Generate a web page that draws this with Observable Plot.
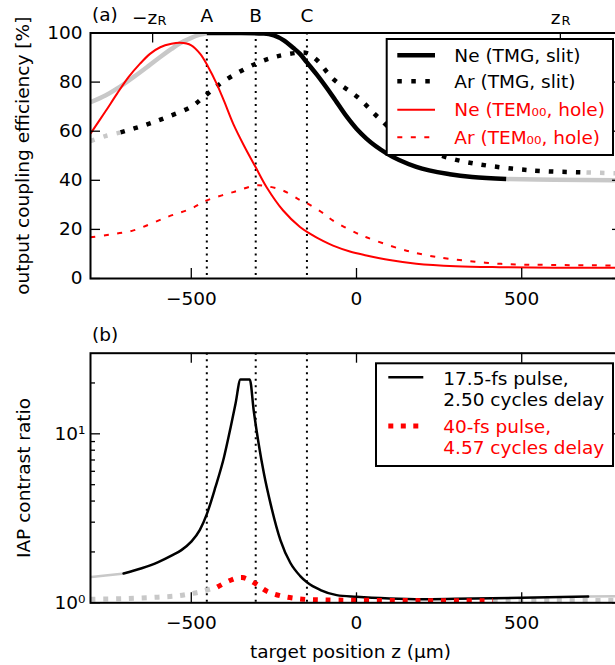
<!DOCTYPE html>
<html><head><meta charset="utf-8">
<script src="https://cdn.jsdelivr.net/npm/d3@7"></script>
<script src="https://cdn.jsdelivr.net/npm/@observablehq/plot@0.6"></script>
<style>
html,body{margin:0;padding:0;background:#fff;}
#wrap{position:relative;width:615px;height:665px;overflow:hidden;background:#fff;}
#wrap svg{position:absolute;left:0;max-width:none !important;}
</style></head><body><div id="wrap"></div>
<script>
const FONT = "DejaVu Sans";
const FS = "18.5px";
const GRAY = "#c8c8c8";
const RED = "#ff0000";

// ---- markers ----
const markerZ = [-453, -305, -150];
const markerLabels = ["A", "B", "C"];
const zR = 617;
const xTicks = [-500, 0, 500];
const yTicksA = [0, 20, 40, 60, 80, 100];
const yMajorB = [1, 10];
const yMinorB = [2, 3, 4, 5, 6, 7, 8, 9, 20];

// ---- panel (a) ----
const neTmgGrayLZ = [-805, -760, -725, -675, -630, -595, -560, -534, -500, -474, -453];
const neTmgGrayLV = [71.8, 74.5, 77.3, 82.0, 86.5, 90.1, 93.5, 95.8, 98.0, 99.3, 100];
const neTmgZ = [-453, -350, -280, -250, -220, -192, -171, -150, -120, -71, -30, 0, 30, 91, 181, 282, 350, 453];
const neTmgV = [100, 100, 99.8, 99, 97, 94, 91.5, 88, 83, 74, 66, 61, 57, 51, 45.5, 42.5, 41.3, 40.5];
const neTmgGrayRZ = [453, 600, 805];
const neTmgGrayRV = [40.5, 40.2, 40.0];

const arTmgGrayLZ = [-805, -760, -714];
const arTmgGrayLV = [56, 58, 59.5];
const arTmgZ = [-714, -640, -574, -500, -453, -400, -305, -240, -171, -150, -120, -71, 4, 65, 130, 200, 272, 362, 533, 696];
const arTmgV = [59.5, 62.5, 65.7, 70, 75, 80.5, 87.5, 90.5, 92, 91.8, 89, 81.3, 73.8, 65.7, 58, 53, 49.4, 46.7, 44, 43.2];
const arTmgGrayRZ = [696, 805];
const arTmgGrayRV = [43.2, 42.8];

const neTemZ = [-805, -760, -725, -690, -655, -625, -594, -560, -534, -500, -473, -450, -423, -400, -373, -340, -305, -272, -222, -171, -141, -100, -71, -20, 30, 100, 181, 300, 433, 600, 805];
const neTemV = [59, 68, 75.2, 82, 87.5, 91.5, 94.2, 95.6, 96, 95, 91.5, 86.5, 79.3, 72, 63, 54, 45.3, 37.2, 27.7, 21, 18.3, 15.2, 13.4, 11, 9.4, 7.5, 6, 5, 4.6, 4.4, 4.4];

const arTemZ = [-805, -750, -675, -574, -500, -453, -373, -305, -272, -222, -171, -141, -100, -71, 0, 30, 131, 200, 282, 433, 600, 805];
const arTemV = [16.8, 17.8, 19.6, 25, 28.5, 31.8, 35.2, 37.9, 37.6, 35.8, 32, 30, 26.5, 23.6, 18.5, 16.8, 12.1, 9.8, 8, 6, 5.5, 5.3];

// ---- panel (b) ----
const p17GrayLZ = [-805, -760, -705];
const p17GrayLV = [1.42, 1.45, 1.49];
const p17Z = [-705, -650, -600, -560, -530, -500, -474, -453, -427, -401, -381, -366, -351, -323, -311, -296, -280, -260, -230, -200, -171, -149, -109, -60, 0, 100, 200, 300, 500, 701];
const p17V = [1.49, 1.60, 1.74, 1.90, 2.05, 2.3, 2.7, 3.35, 4.83, 7.27, 10.9, 15.1, 21, 21, 13.7, 8.7, 5.8, 3.85, 2.34, 1.72, 1.445, 1.318, 1.19, 1.11, 1.085, 1.06, 1.05, 1.055, 1.07, 1.09];
const p17GrayRZ = [701, 805];
const p17GrayRV = [1.09, 1.095];

const p40GrayLZ = [-805, -700, -600, -540, -504, -474, -440, -421];
const p40GrayLV = [1.05, 1.06, 1.08, 1.10, 1.13, 1.16, 1.21, 1.24];
const p40Z = [-421, -381, -346, -306, -271, -230, -190, -150, -100, 0, 200, 413];
const p40V = [1.24, 1.36, 1.41, 1.30, 1.17, 1.10, 1.065, 1.046, 1.04, 1.035, 1.03, 1.03];
const p40GrayRZ = [413, 600, 805];
const p40GrayRV = [1.03, 1.03, 1.035];

const legendA = ["Ne (TMG, slit)", "Ar (TMG, slit)", "Ne (TEM\u2080\u2080, hole)", "Ar (TEM\u2080\u2080, hole)"];
const legendB = [["17.5-fs pulse,", "2.50 cycles delay"], ["40-fs pulse,", "4.57 cycles delay"]];

const pts = (zs, vs) => zs.map((z, i) => ({z, v: vs[i]}));
const minus = d => d < 0 ? "\u2212" + Math.abs(d) : String(d);

// ---- layout ----
const W = 625, ML = 90, MR = 3;
const xDomain = [-805, 805];
const pw = W - ML - MR;
const TL = 10, TLm = 5;
const style = {fontFamily: FONT, fontSize: FS, color: "black", background: "transparent", overflow: "visible"};

const hA = 320, mtA = 32.5, mbA = 42, phA = hA - mtA - mbA;
const thick = {x: "z", y: "v", strokeWidth: 4.5, curve: "catmull-rom", clip: "frame", strokeLinecap: "butt"};

const plotA = Plot.plot({
  width: W, height: hA, marginTop: mtA, marginBottom: mbA, marginLeft: ML, marginRight: MR,
  style,
  x: {domain: xDomain}, y: {domain: [0, 100]},
  marks: [
    Plot.ruleX(markerZ, {stroke: "black", strokeWidth: 2, strokeDasharray: "2,4.5"}),
    Plot.line(pts(neTmgGrayLZ, neTmgGrayLV), {...thick, stroke: GRAY}),
    Plot.line(pts(neTmgGrayRZ, neTmgGrayRV), {...thick, stroke: GRAY}),
    Plot.line(pts(arTmgGrayLZ, arTmgGrayLV), {...thick, stroke: GRAY, strokeDasharray: "4.5,9"}),
    Plot.line(pts(arTmgGrayRZ, arTmgGrayRV), {...thick, stroke: GRAY, strokeDasharray: "4.5,9"}),
    Plot.line(pts(neTmgZ, neTmgV), {...thick, curve: "monotone-x", stroke: "black"}),
    Plot.line(pts(arTmgZ, arTmgV), {...thick, stroke: "black", strokeDasharray: "4.5,9"}),
    Plot.line(pts(neTemZ, neTemV), {...thick, strokeWidth: 2, stroke: RED}),
    Plot.line(pts(arTemZ, arTemV), {...thick, strokeWidth: 2, stroke: RED, strokeDasharray: "5,8.5"}),
    Plot.ruleX(xTicks, {insetTop: phA - TL, strokeWidth: 1.3}),
    Plot.ruleX([-zR, zR], {insetBottom: phA - TL, strokeWidth: 1.3}),
    Plot.ruleY(yTicksA, {insetRight: pw - TL, strokeWidth: 1.3}),
    Plot.ruleY(yTicksA, {insetLeft: pw - TL, strokeWidth: 1.3}),
    Plot.axisX(xTicks, {tickSize: 0, tickPadding: 13, tickFormat: minus, label: null}),
    Plot.axisY(yTicksA, {tickSize: 0, tickPadding: 8, label: null}),
    Plot.frame({stroke: "black", strokeWidth: 2}),
    Plot.text(["(a)"], {text: d => d, frameAnchor: "top-left", textAnchor: "start", dx: 1.5, dy: -18, lineAnchor: "middle"}),
    Plot.text(markerZ, {x: d => d, text: (d, i) => markerLabels[i], frameAnchor: "top", dy: -16.6, lineAnchor: "middle"}),
    Plot.text([-zR], {x: d => d, text: () => "\u2212z", frameAnchor: "top", textAnchor: "end", dx: 4.5, dy: -15, lineAnchor: "middle"}),
    Plot.text([-zR], {x: d => d, text: () => "R", frameAnchor: "top", textAnchor: "start", dx: 5, dy: -11.7, lineAnchor: "middle", fontSize: 13}),
    Plot.text([zR], {x: d => d, text: () => "z", frameAnchor: "top", textAnchor: "end", dx: 0, dy: -15, lineAnchor: "middle"}),
    Plot.text([zR], {x: d => d, text: () => "R", frameAnchor: "top", textAnchor: "start", dx: 1, dy: -11.7, lineAnchor: "middle", fontSize: 13}),
    Plot.text(["output coupling efficiency [%]"], {text: d => d, frameAnchor: "left", textAnchor: "middle", dx: -67.5, rotate: -90, lineAnchor: "middle"})
  ]
});

const hB = 345, mtB = 32.7, mbB = 62.7, phB = hB - mtB - mbB;
const dotted = {x: "z", y: "v", strokeWidth: 5, strokeDasharray: "5,7.8", curve: "catmull-rom", clip: "frame", strokeLinecap: "butt"};
const plotB = Plot.plot({
  width: W, height: hB, marginTop: mtB, marginBottom: mbB, marginLeft: ML, marginRight: MR,
  style,
  x: {domain: xDomain}, y: {type: "log", domain: [1, 30]},
  marks: [
    Plot.ruleX(markerZ, {stroke: "black", strokeWidth: 2, strokeDasharray: "2,4.5"}),
    Plot.line(pts(p17GrayLZ, p17GrayLV), {x: "z", y: "v", stroke: GRAY, strokeWidth: 2.5, curve: "monotone-x", clip: "frame"}),
    Plot.line(pts(p17GrayRZ, p17GrayRV), {x: "z", y: "v", stroke: GRAY, strokeWidth: 2.5, curve: "monotone-x", clip: "frame"}),
    Plot.line(pts(p40GrayLZ, p40GrayLV), {...dotted, stroke: GRAY}),
    Plot.line(pts(p40GrayRZ, p40GrayRV), {...dotted, stroke: GRAY}),
    Plot.line(pts(p17Z, p17V), {x: "z", y: "v", stroke: "black", strokeWidth: 2.5, curve: "monotone-x", clip: "frame"}),
    Plot.line(pts(p40Z, p40V), {...dotted, stroke: RED}),
    Plot.ruleX(xTicks, {insetTop: phB - TL, strokeWidth: 1.3}),
    Plot.ruleX(xTicks, {insetBottom: phB - TL, strokeWidth: 1.3}),
    Plot.ruleY(yMajorB, {insetRight: pw - TL, strokeWidth: 1.3}),
    Plot.ruleY(yMajorB, {insetLeft: pw - TL, strokeWidth: 1.3}),
    Plot.ruleY(yMinorB, {insetRight: pw - TLm, strokeWidth: 1.3}),
    Plot.ruleY(yMinorB, {insetLeft: pw - TLm, strokeWidth: 1.3}),
    Plot.axisX(xTicks, {tickSize: 0, tickPadding: 13, tickFormat: minus, label: null}),
    Plot.axisY(yMajorB, {tickSize: 0, tickPadding: 5, tickFormat: d => d === 1 ? "10\u2070" : "10\u00B9", label: null}),
    Plot.frame({stroke: "black", strokeWidth: 2}),
    Plot.text(["(b)"], {text: d => d, frameAnchor: "top-left", textAnchor: "start", dx: 1.5, dy: -17.7, lineAnchor: "middle"}),
    Plot.text(["IAP contrast ratio"], {text: d => d, frameAnchor: "left", textAnchor: "middle", dx: -66, rotate: -90, lineAnchor: "middle"}),
    Plot.text(["target position z (\u00B5m)"], {text: d => d, frameAnchor: "bottom", dx: -6, dy: 49.4, lineAnchor: "middle"})
  ]
});

const wrap = document.getElementById("wrap");
plotA.style.top = "0px";
plotB.style.top = "320px";
wrap.appendChild(plotA);
wrap.appendChild(plotB);

// ---- legends ----
function legend(svg, box, samples, lines) {
  const g = d3.select(svg).append("g").attr("font-family", FONT).attr("font-size", FS).attr("text-anchor", "start");
  g.append("rect").attr("x", box.x).attr("y", box.y).attr("width", box.w).attr("height", box.h)
    .attr("fill", "white").attr("stroke", "black").attr("stroke-width", 2);
  for (const s of samples) {
    g.append("line").attr("x1", s.x1).attr("x2", s.x2).attr("y1", s.y).attr("y2", s.y)
      .attr("stroke", s.stroke).attr("stroke-width", s.w).attr("stroke-dasharray", s.dash || null)
      .attr("stroke-linecap", "butt");
  }
  for (const t of lines) {
    g.append("text").attr("x", t.x).attr("y", t.y).attr("dy", "0.36em").attr("fill", t.fill)
      .attr("text-anchor", "start").text(t.text);
  }
}
legend(plotA, {x: 386.7, y: 39, w: 226.3, h: 116}, [
  {x1: 397.3, x2: 435, y: 55.3, stroke: "black", w: 4.5},
  {x1: 397.3, x2: 435, y: 81.3, stroke: "black", w: 4.5, dash: "4.5,9.5"},
  {x1: 397.3, x2: 435, y: 109.7, stroke: RED, w: 2},
  {x1: 397.3, x2: 435, y: 137.3, stroke: RED, w: 2, dash: "5,8.5"}
], legendA.map((t, i) => ({x: 454.3, y: [55.3, 81.3, 109.7, 137.3][i], text: t, fill: i < 2 ? "black" : RED})));

legend(plotB, {x: 376, y: 43.3, w: 237, h: 102.7}, [
  {x1: 388.3, x2: 423.3, y: 57.3, stroke: "black", w: 2.5},
  {x1: 388.3, x2: 423.3, y: 106, stroke: RED, w: 5, dash: "5,7.5"}
], [
  {x: 443.3, y: 58.3, text: legendB[0][0], fill: "black"},
  {x: 443.3, y: 79.3, text: legendB[0][1], fill: "black"},
  {x: 443.3, y: 106.7, text: legendB[1][0], fill: RED},
  {x: 443.3, y: 127.3, text: legendB[1][1], fill: RED}
]);
</script></body></html>
